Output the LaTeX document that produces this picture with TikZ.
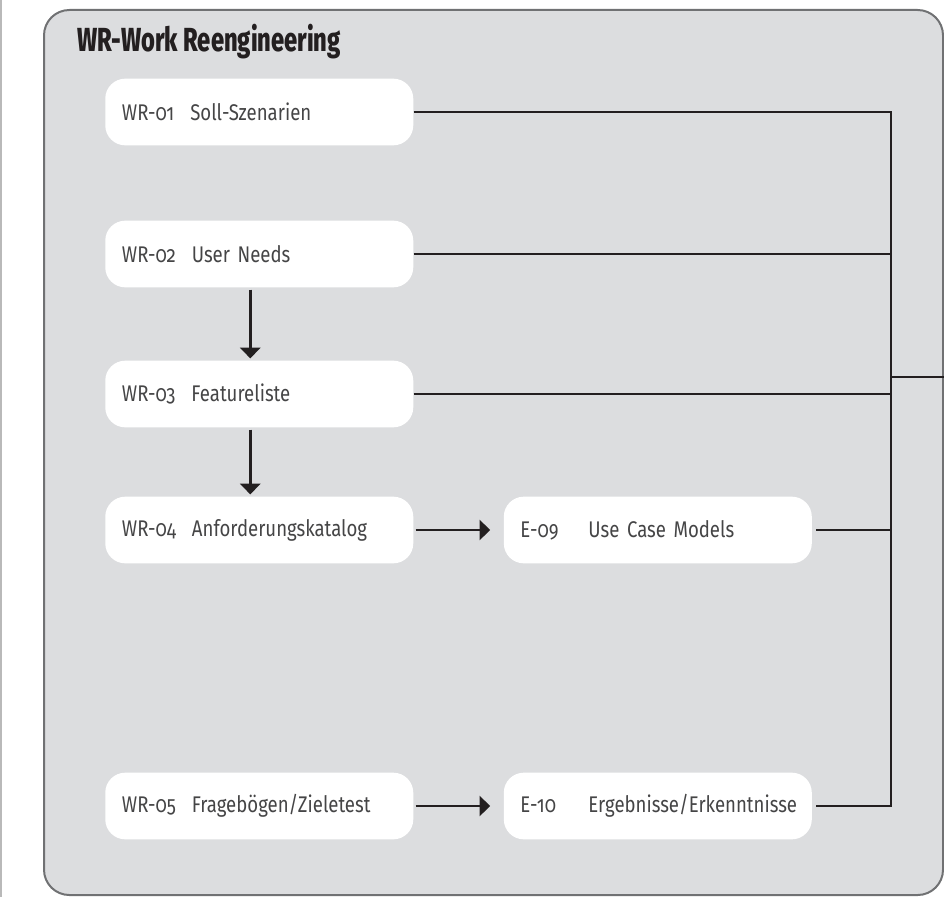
\documentclass[tikz,border=0pt]{standalone}
\usepackage{fontspec}
\setmainfont{Fira Sans}[FakeStretch=0.82, Numbers=OldStyle]
\newfontfamily\headfont{Fira Sans ExtraBold}[FakeStretch=0.71]
\usetikzlibrary{arrows.meta, positioning}

\definecolor{panelgray}{HTML}{DCDDDF}
\definecolor{panelline}{HTML}{707173}
\definecolor{linkblack}{HTML}{231F20}
\definecolor{textgray}{HTML}{454546}

\begin{document}
\begin{tikzpicture}[
    x=0.75pt, y=-0.75pt,
    panel/.style={
        rectangle, draw=panelline, fill=panelgray, line width=1.5pt,
        rounded corners=19pt, inner sep=0pt
    },
    wrbox/.style={
        rectangle, fill=white, rounded corners=15pt,
        minimum height=50pt, text width=206pt, inner xsep=12.5pt,
        align=left, anchor=west, text=textgray,
        font=\fontsize{17}{20}\selectfont
    },
    title/.style={font=\headfont\fontsize{25}{30}\selectfont, text=linkblack, anchor=base west},
    arrow/.style={-{Triangle[length=8pt, width=15pt]}, line width=2pt, draw=linkblack},
    link/.style={line width=2pt, draw=linkblack, line join=miter}
]
\useasboundingbox (0,0) rectangle (944,899);

%% ─── FRAME ───────────────────────────────────────────────────
\draw[gray!55, line width=1pt] (1,0) -- (1,897);
\node[panel, minimum width=674.25pt, minimum height=663.75pt] (frame) at (493.5,452.5) {};
\node[title] (head) at (73,52) {WR-Work Reengineering};

%% ─── LEFT COLUMN: WR items ──────────────────────────────────
\node[wrbox] (wr01) at (105,112) {WR-01\hspace{12pt}Soll-Szenarien};
\node[wrbox] (wr02) at (105,254) {WR-02\hspace{12pt}User Needs};
\node[wrbox] (wr03) at (105,394) {WR-03\hspace{12pt}Featureliste};
\node[wrbox] (wr04) at (105,530) {WR-04\hspace{12pt}Anforderungskatalog};
\node[wrbox] (wr05) at (105,806) {WR-05\hspace{12pt}Fragebögen/Zieletest};

%% ─── RIGHT COLUMN: E items ──────────────────────────────────
\node[wrbox, right=67.5pt of wr04] (e09) {\makebox[51pt][l]{E-09}Use Case Models};
\node[wrbox, right=67.5pt of wr05] (e10) {\makebox[51pt][l]{E-10}Ergebnisse/Erkenntnisse};

%% ─── ARROWS ──────────────────────────────────────────────────
\draw[arrow, shorten <=1.5pt, shorten >=1.5pt]
    ([xshift=-6.75pt]wr02.south) -- ([xshift=-6.75pt]wr03.north);
\draw[arrow, shorten <=1.5pt, shorten >=1.5pt]
    ([xshift=-6.75pt]wr03.south) -- ([xshift=-6.75pt]wr04.north);
\draw[arrow, shorten <=1.5pt, shorten >=10pt] (wr04) -- (e09);
\draw[arrow, shorten <=1.5pt, shorten >=10pt] (wr05) -- (e10);

%% ─── BUS on the right ────────────────────────────────────────
\coordinate (bus) at (891,112);
\coordinate (out) at (944,377);
\draw[link] (wr01.east) -- (bus) -- (bus |- e10.east) -- ([xshift=3pt]e10.east);
\draw[link] (wr02.east) -- (bus |- wr02.east);
\draw[link] (wr03.east) -- (bus |- wr03.east);
\draw[link] ([xshift=3pt]e09.east) -- (bus |- e09.east);
\draw[link] (bus |- out) -- (out);

\end{tikzpicture}
\end{document}
